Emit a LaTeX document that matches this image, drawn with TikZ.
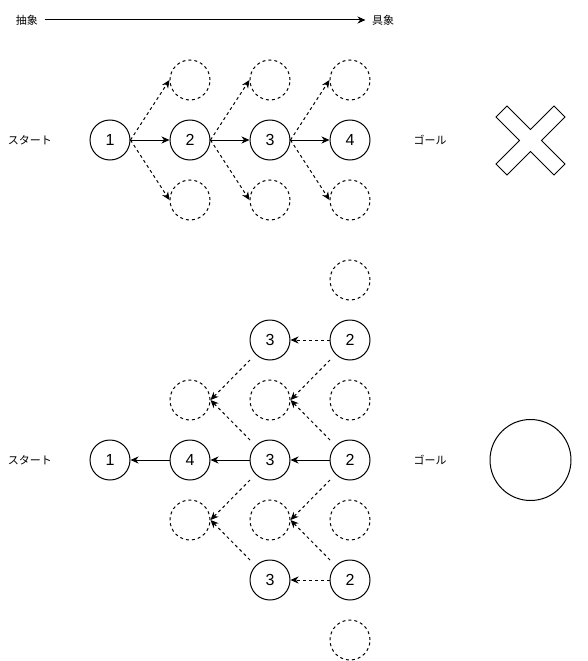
\documentclass[tikz,border=0pt]{standalone}
\usepackage{fontspec}
\setmainfont{Liberation Sans}
\newfontfamily\jpfont{Noto Sans CJK JP}
\usepackage{tikz}
\usetikzlibrary{positioning,calc,arrows.meta}

\begin{document}
\begin{tikzpicture}[x=1pt,y=-1pt,>={Stealth[length=8pt,width=7pt,inset=2.5pt]},line width=1pt,
  main node/.style={circle,draw,minimum size=40pt,inner sep=0pt,
  font=\fontsize{16}{18}\selectfont},
  empty node/.style={circle,draw,dash pattern=on 3pt off 3pt,minimum size=40pt},
  label node/.style={font=\jpfont\fontsize{11}{13}\selectfont,inner sep=6pt}]

  \useasboundingbox (0,0) rectangle (588,661);

  % header
  \node[label node] (abstract) at (27,20) {抽象};
  \node[label node] (concrete) at (383,20) {具象};
  \draw[->] (abstract) -- (concrete);

  % upper: forward search
  \node[label node] (start1) at (30,140) {スタート};
  \node[label node] (goal1) at (430,140) {ゴール};
  \node[main node] (a1) at (110,140) {1};
  \node[main node] (a2) at (190,140) {2};
  \node[main node] (a3) at (270,140) {3};
  \node[main node] (a4) at (350,140) {4};
  \foreach \x/\n in {190/2,270/3,350/4} {
    \node[empty node] (au\n) at (\x,80) {};
    \node[empty node] (ad\n) at (\x,200) {};
  }

  \path[->]
    (a1) edge (a2)
    (a2) edge (a3)
    (a3) edge (a4);
  \path[->,dash pattern=on 3pt off 3pt]
    (a1.east) edge (au2.west)
    (a1.east) edge (ad2.west)
    (a2.east) edge (au3.west)
    (a2.east) edge (ad3.west)
    (a3.east) edge (au4.west)
    (a3.east) edge (ad4.west);

  \draw[shift={(530.5,140.5)}] (0,-11) -- (23.5,-34.5) -- (34.5,-23.5) -- (11,0)
    -- (34.5,23.5) -- (23.5,34.5) -- (0,11) -- (-23.5,34.5) -- (-34.5,23.5)
    -- (-11,0) -- (-34.5,-23.5) -- (-23.5,-34.5) -- cycle;

  % lower: backward search
  \node[label node] (start2) at (30,460) {スタート};
  \node[label node] (goal2) at (430,460) {ゴール};
  \node[empty node] (e1) at (350,280) {};
  \node[main node] (t3) at (270,340) {3};
  \node[main node] (t2) at (350,340) {2};
  \node[empty node] (e2) at (190,400) {};
  \node[empty node] (e3) at (270,400) {};
  \node[empty node] (e4) at (350,400) {};
  \node[main node] (m1) at (110,460) {1};
  \node[main node] (m4) at (190,460) {4};
  \node[main node] (m3) at (270,460) {3};
  \node[main node] (m2) at (350,460) {2};
  \node[empty node] (e5) at (190,520) {};
  \node[empty node] (e6) at (270,520) {};
  \node[empty node] (e7) at (350,520) {};
  \node[main node] (b3) at (270,580) {3};
  \node[main node] (b2) at (350,580) {2};
  \node[empty node] (e8) at (350,640) {};

  \path[->]
    (m2) edge (m3)
    (m3) edge (m4)
    (m4) edge (m1);
  \path[->,dash pattern=on 3pt off 3pt]
    (t2) edge (t3)
    (b2) edge (b3)
    ($(t3)+(-20,20)$) edge (e2.east)
    ($(m3)+(-20,-20)$) edge (e2.east)
    ($(t2)+(-20,20)$) edge (e3.east)
    ($(m2)+(-20,-20)$) edge (e3.east)
    ($(m3)+(-20,20)$) edge (e5.east)
    ($(b3)+(-20,-20)$) edge (e5.east)
    ($(m2)+(-20,20)$) edge (e6.east)
    ($(b2)+(-20,-20)$) edge (e6.east);

  \node[circle,draw,minimum size=81pt] (ok) at (530.5,460) {};
\end{tikzpicture}
\end{document}
